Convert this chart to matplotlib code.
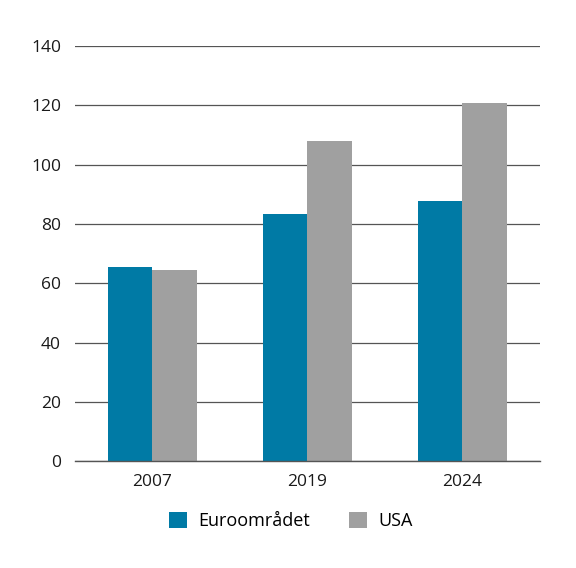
import numpy as np
import matplotlib
matplotlib.use('Agg')
import matplotlib.pyplot as plt

years = ['2007', '2019', '2024']
euro = [65.6, 83.4, 87.9]
usa = [64.4, 107.9, 120.9]
series_names = ['Euroområdet', 'USA']

plt.rcParams['font.family'] = ['Open Sans', 'DejaVu Sans']

fig = plt.figure(figsize=(5.76, 5.68), dpi=100)
ax = fig.add_axes([0.130, 0.188, 0.8075, 0.731])

x = np.arange(len(years))
w = 0.285
ax.bar(x - w / 2, euro, w, color='#007aa5', label=series_names[0], zorder=3)
ax.bar(x + w / 2, usa, w, color='#a0a0a0', label=series_names[1], zorder=3)

ax.set_xlim(-0.5, 2.5)
ax.set_ylim(0, 140)
ax.set_yticks(range(0, 141, 20))
ax.set_xticks(x)
ax.set_xticklabels(years)
ax.yaxis.grid(True, color='#555555', linewidth=0.9, zorder=0)
for s in ['top', 'right', 'left']:
    ax.spines[s].set_visible(False)
ax.spines['bottom'].set_color('#555555')
ax.spines['bottom'].set_linewidth(1.0)
ax.spines['bottom'].set_zorder(4)
ax.tick_params(axis='both', length=0, labelsize=12.5, colors='#1a1a1a')
ax.tick_params(axis='y', pad=10)
ax.tick_params(axis='x', pad=9)

fig.legend(loc='center', bbox_to_anchor=(0.505, 0.083), ncol=2, frameon=False,
           fontsize=13, handlelength=1.0, handleheight=1.0, columnspacing=2.2,
           handletextpad=0.6)

fig.savefig('out.png', dpi=100)
